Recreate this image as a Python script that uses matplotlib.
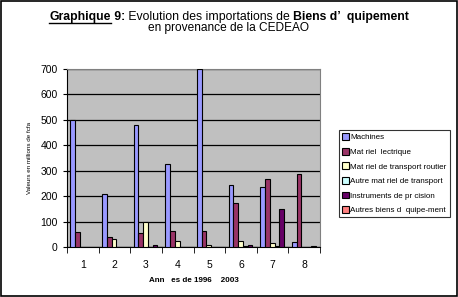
import numpy as np
import matplotlib
matplotlib.use("Agg")
import matplotlib.pyplot as plt
from matplotlib.patches import Rectangle

plt.rcParams['font.family'] = ['Liberation Sans', 'DejaVu Sans']

# data
years = ['1', '2', '3', '4', '5', '6', '7', '8']
machines = [500, 207, 480, 327, 700, 245, 236, 20]
mat_elec = [60, 38, 55, 65, 65, 175, 268, 287]
transport_routier = [2, 30, 100, 25, 8, 25, 15, 2]
autre_transport = [1, 1, 1, 1, 1, 3, 3, 1]
instruments = [2, 2, 10, 2, 2, 8, 150, 5]
autres_biens = [0, 0, 0, 0, 0, 0, 0, 0]

series = [
    ('Machines', machines, '#9999FF'),
    ('Mat riel  lectrique', mat_elec, '#993366'),
    ('Mat riel de transport routier', transport_routier, '#FFFFCC'),
    ('Autre mat riel de transport', autre_transport, '#CCFFFF'),
    ('Instruments de pr cision', instruments, '#660066'),
    ('Autres biens d  quipe-ment', autres_biens, '#FF8080'),
]

fig = plt.figure(figsize=(4.58, 2.97), dpi=100)
fig.patches.append(Rectangle((0.002, 0.003), 0.995, 0.994, transform=fig.transFigure,
                             fill=False, edgecolor='black', linewidth=1.2))

ax = fig.add_axes([0.146, 0.168, 0.553, 0.6])
ax.set_facecolor('#C0C0C0')

x = np.arange(len(years))
w = 0.15
for i, (name, vals, col) in enumerate(series):
    ax.bar(x - 2.5 * w + i * w + 0.06, vals, w, color=col, edgecolor='black',
           linewidth=0.8, label=name, zorder=3)

ax.set_xlim(-0.5, 7.5)
ax.set_ylim(0, 700)
ax.set_yticks(range(0, 701, 100))
ax.set_xticks(x)
ax.set_xticklabels(years)
ax.set_xticks(np.arange(-0.5, 8, 1), minor=True)
ax.tick_params(axis='x', which='major', length=0, labelsize=7.5, pad=9)
ax.tick_params(axis='x', which='minor', length=4, direction='out')
ax.tick_params(axis='y', labelsize=7.5, length=3)
ax.yaxis.grid(True, color='black', linewidth=0.9, zorder=0)
for s in ['top', 'right']:
    ax.spines[s].set_color('#808080')
ax.spines['left'].set_color('black')
ax.spines['bottom'].set_color('black')

ax.set_xlabel('Ann   es de 1996    2003', fontsize=5.8, fontweight='bold', labelpad=5)
ax.set_ylabel('Valeurs en millions de fcfa', fontsize=4.5, labelpad=6)

leg = fig.legend(loc='upper left', bbox_to_anchor=(0.740, 0.562), fontsize=5.8,
                 frameon=True, fancybox=False, edgecolor='black', handlelength=0.8,
                 handleheight=0.9, handletextpad=0.2, labelspacing=0.8,
                 borderpad=0.4, borderaxespad=0)
leg.get_frame().set_linewidth(0.8)

# title built from pieces with different weights
fig.canvas.draw()
renderer = fig.canvas.get_renderer()
pieces = [('Graphique', 'bold'), (' 9:', 'bold'),
          (' Evolution des importations de ', 'normal'),
          ('Biens d\u2019  quipement', 'bold')]
texts = []
for txt, wt in pieces:
    t = fig.text(0, 0.934, txt, fontsize=8.8, fontweight=wt, va='baseline', ha='left')
    texts.append(t)
widths = [t.get_window_extent(renderer).width for t in texts]
total = sum(widths)
start = (458 - total) / 2 / 458
pos = start
for t, wd in zip(texts, widths):
    t.set_x(pos)
    pos += wd / 458
gw = widths[0] / 458
fig.add_artist(plt.Line2D([start, start + gw], [0.924, 0.924], color='black',
                          linewidth=1.0, transform=fig.transFigure))
fig.text(0.5, 0.896, 'en provenance de la CEDEAO', fontsize=8.6, ha='center', va='baseline')

fig.savefig('out.png', dpi=100)
